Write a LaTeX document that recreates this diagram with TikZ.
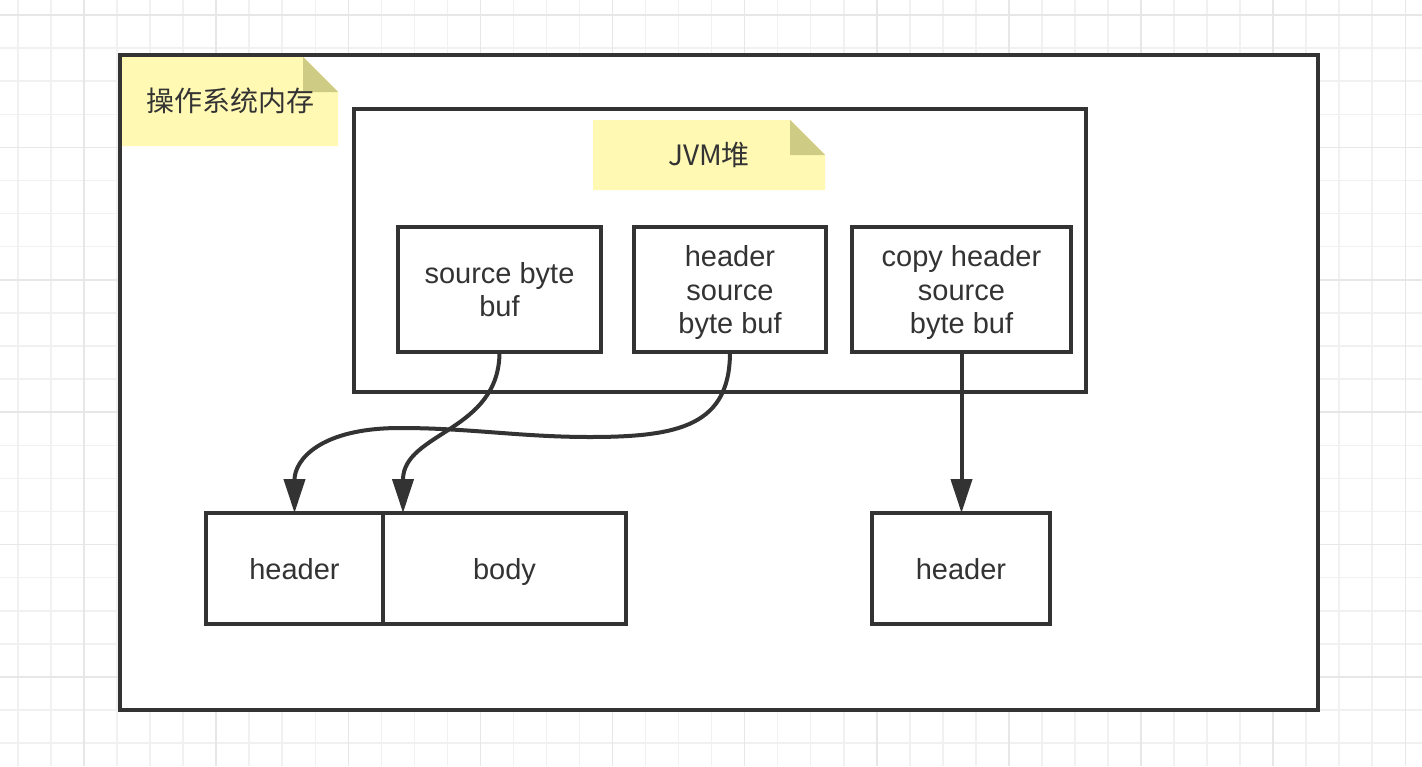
\documentclass[tikz,border=0pt]{standalone}
\usepackage{fontspec}
\setmainfont{Liberation Sans}
\newfontfamily\cjk{Noto Sans CJK SC}
\usetikzlibrary{arrows.meta}
\definecolor{ink}{HTML}{333333}
\definecolor{notey}{HTML}{FFF9B4}
\definecolor{notefold}{HTML}{CDCB84}
\definecolor{gridminor}{HTML}{F1F1F1}
\definecolor{gridmajor}{HTML}{E7E7E7}
\newcommand{\sline}[1]{\rule[-6.25pt]{0pt}{33.5pt}#1}
\tikzset{
  box/.style={draw=ink, line width=4pt, fill=white, outer sep=0pt, inner sep=0pt,
    text=ink, align=center, font=\fontsize{29}{33.5}\selectfont},
  notetext/.style={text=ink, inner sep=0pt, font=\cjk\fontsize{28}{33}\selectfont},
  arr/.style={draw=ink, line width=4pt, -{Triangle[length=34pt,width=21pt]}},
  gminor/.style={draw=gridminor, line width=1.5pt},
  gmajor/.style={draw=gridmajor, line width=1.5pt}
}
\begin{document}
\begin{tikzpicture}[x=1pt,y=-1pt]
\useasboundingbox (0,0) rectangle (1422,766);
\fill[white] (0,0) rectangle (1422,766);
% grid
\foreach \k in {0,...,42}{\pgfmathsetmacro\xx{18+33.03*\k}\draw[gminor] (\xx,0) -- (\xx,766);}
\foreach \k in {0,...,22}{\pgfmathsetmacro\yy{15+33.1*\k}\draw[gminor] (0,\yy) -- (1422,\yy);}
\foreach \k in {2,6,...,42}{\pgfmathsetmacro\xx{18+33.03*\k}\draw[gmajor] (\xx,0) -- (\xx,766);}
\foreach \k in {0,4,...,20}{\pgfmathsetmacro\yy{15+33.1*\k}\draw[gmajor] (0,\yy) -- (1422,\yy);}
% outer box
\node[box, minimum width=1198pt, minimum height=655pt] (os) at (719,382.5) {};
% note 1
\fill[notey] (122,57) -- (303,57) -- (338,92) -- (338,146) -- (122,146) -- cycle;
\fill[notefold] (303,57) -- (338,92) -- (303,92) -- cycle;
\node[notetext] (n1) at (230,101) {操作系统内存};
% JVM box
\node[box, minimum width=732pt, minimum height=283pt] (jvm) at (720,250.5) {};
\fill[notey] (593,120) -- (790,120) -- (825,155) -- (825,190) -- (593,190) -- cycle;
\fill[notefold] (790,120) -- (825,155) -- (790,155) -- cycle;
\node[notetext] (n2) at (709,155) {JVM堆};
% inner boxes
\node[box, minimum width=203pt, minimum height=125pt] (sbb) at (499.5,289.5) {\sline{source byte}\\\sline{buf}};
\node[box, minimum width=192pt, minimum height=125pt] (hsbb) at (730,289.5) {\sline{header}\\\sline{source}\\\sline{byte buf}};
\node[box, minimum width=219pt, minimum height=125pt] (chsbb) at (961.5,289.5) {\sline{copy header}\\\sline{source}\\\sline{byte buf}};
% bottom boxes
\node[box, minimum width=177pt, minimum height=111pt] (hdr) at (294.5,568.5) {\sline{header}};
\node[box, minimum width=243pt, minimum height=111pt] (body) at (504.5,568.5) {\sline{body}};
\node[box, minimum width=178pt, minimum height=111pt] (hdr2) at (961,568.5) {\sline{header}};
% connectors
\draw[arr] (sbb.south) .. controls (499.5,432) and (403,432) .. ([xshift=20pt]body.north west);
\draw[arr] (hsbb.south) .. controls (730,425) and (680,437) .. (590,437)
  .. controls (520,437) and (470,428) .. (400,428)
  .. controls (320,428) and (294.5,460) .. (hdr.north);
\draw[arr] (chsbb.south) -- (chsbb.south |- hdr2.north);
\end{tikzpicture}
\end{document}
